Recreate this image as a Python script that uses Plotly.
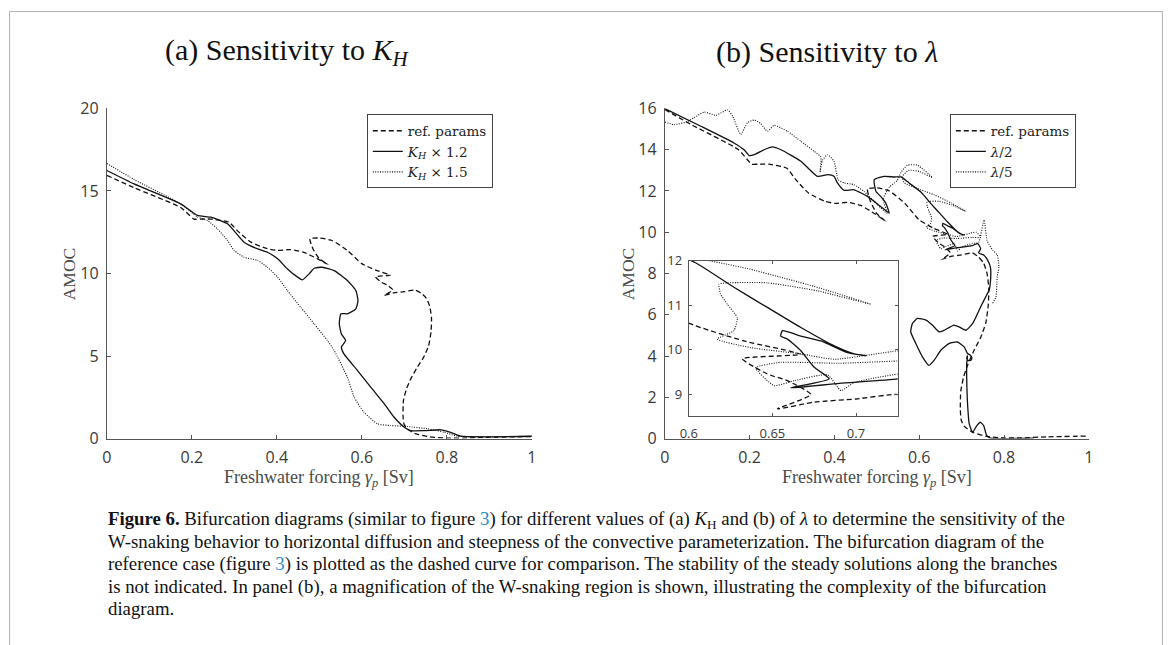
import plotly.graph_objects as go

# ---------------- data ----------------
# reference parameters (same curve in both panels)
ref_x = [0.000, 0.064, 0.174, 0.205, 0.220, 0.245, 0.288, 0.307, 0.339, 0.378,
         0.402, 0.431, 0.462, 0.495, 0.520, 0.500, 0.485, 0.478, 0.500, 0.530,
         0.566, 0.600, 0.633, 0.667, 0.632, 0.647, 0.659, 0.673, 0.653, 0.675,
         0.700, 0.725, 0.740, 0.752, 0.760, 0.764, 0.763, 0.757, 0.745, 0.730,
         0.715, 0.705, 0.698, 0.697, 0.699, 0.706, 0.726, 0.760, 0.800, 0.840,
         0.900, 1.000]
ref_y = [15.95, 15.20, 14.00, 13.30, 13.30, 13.30, 13.10, 12.60, 11.90, 11.50,
         11.40, 11.45, 11.30, 10.90, 10.55, 10.90, 11.50, 12.10, 12.15, 12.00,
         11.40, 10.60, 10.20, 9.90, 9.80, 9.46, 9.31, 9.00, 8.68, 8.83,
         8.90, 9.00, 8.80, 8.50, 8.00, 7.30, 6.50, 5.60, 4.90, 4.30,
         3.60, 3.00, 2.30, 1.40, 0.90, 0.60, 0.30, 0.10, 0.03, 0.03,
         0.08, 0.12]

# K_H x 1.2
kh12_x = [0.000, 0.064, 0.174, 0.213, 0.245, 0.284, 0.323, 0.355, 0.378, 0.402,
          0.425, 0.449, 0.460, 0.476, 0.488, 0.507, 0.535, 0.566, 0.586, 0.591,
          0.586, 0.566, 0.551, 0.547, 0.552, 0.562, 0.552, 0.558, 0.590, 0.621,
          0.653, 0.676, 0.700, 0.715, 0.747, 0.786, 0.809, 0.833, 1.000]
kh12_y = [16.24, 15.43, 14.22, 13.52, 13.41, 13.01, 11.90, 11.49, 11.29, 10.89,
          10.28, 9.78, 9.62, 9.98, 10.32, 10.38, 10.18, 9.58, 8.97, 8.36,
          7.86, 7.56, 7.56, 6.95, 6.34, 5.94, 5.54, 5.13, 4.12, 3.11,
          2.10, 1.29, 0.69, 0.48, 0.48, 0.53, 0.38, 0.14, 0.14]

# K_H x 1.5
kh15_x = [0.000, 0.064, 0.174, 0.213, 0.237, 0.260, 0.284, 0.300, 0.323, 0.355,
          0.378, 0.402, 0.425, 0.456, 0.488, 0.519, 0.535, 0.566, 0.582, 0.605,
          0.637, 0.668, 0.707, 0.755, 0.794, 0.825, 1.000]
kh15_y = [16.67, 15.70, 14.22, 13.43, 13.21, 12.71, 12.00, 11.39, 10.99, 10.79,
          10.38, 9.78, 8.97, 7.96, 6.95, 5.94, 5.33, 3.72, 2.51, 1.60,
          0.89, 0.79, 0.73, 0.59, 0.38, 0.14, 0.14]

# lambda / 2
lam2_x = [0.000, 0.085, 0.163, 0.187, 0.199, 0.211, 0.234, 0.254, 0.274, 0.321,
          0.360, 0.384, 0.399, 0.407, 0.423, 0.446, 0.478, 0.509, 0.529, 0.521,
          0.509, 0.498, 0.494, 0.517, 0.541, 0.557, 0.576, 0.604, 0.627, 0.647,
          0.667, 0.687, 0.699, 0.706, 0.695, 0.679, 0.667, 0.656, 0.655, 0.659,
          0.667, 0.675, 0.684, 0.661, 0.690, 0.725, 0.738, 0.745, 0.740, 0.752,
          0.760, 0.768, 0.768, 0.765, 0.757, 0.745, 0.726, 0.710, 0.694, 0.682,
          0.659, 0.647, 0.631, 0.616, 0.596, 0.584, 0.580, 0.592, 0.608, 0.623,
          0.635, 0.651, 0.671, 0.690, 0.706, 0.714, 0.720, 0.724, 0.722, 0.716,
          0.712, 0.714, 0.712, 0.712, 0.714, 0.718, 0.726, 0.736, 0.744, 0.752,
          0.759, 0.768, 0.870]
lam2_y = [15.99, 15.14, 14.33, 14.00, 13.72, 13.76, 14.00, 14.14, 14.00, 13.44,
          12.71, 12.79, 12.71, 12.39, 12.03, 12.06, 11.74, 11.25, 10.93, 11.42,
          11.74, 11.98, 12.55, 12.71, 12.68, 12.68, 12.39, 11.95, 11.40, 10.95,
          10.50, 10.09, 9.91, 9.87, 9.94, 10.20, 10.31, 10.43, 10.31, 10.24,
          9.98, 9.61, 9.35, 9.15, 9.25, 9.35, 9.45, 9.20, 9.00, 8.90,
          8.70, 8.30, 7.60, 7.20, 6.87, 6.39, 5.58, 5.25, 5.41, 5.50,
          5.25, 5.17, 5.50, 5.74, 5.82, 5.58, 5.17, 4.61, 3.95, 3.55,
          3.79, 4.28, 4.61, 4.68, 4.44, 4.12, 4.05, 3.92, 3.80, 3.78,
          3.90, 4.02, 3.63, 2.98, 1.69, 0.71, 0.31, 0.63, 0.79, 0.63,
          0.15, 0.02, 0.02]

# lambda / 5
lam5_x = [0.000, 0.022, 0.050, 0.069, 0.093, 0.120, 0.148, 0.160, 0.179, 0.195,
          0.211, 0.226, 0.242, 0.258, 0.289, 0.321, 0.352, 0.368, 0.366, 0.372,
          0.384, 0.399, 0.409, 0.423, 0.446, 0.470, 0.502, 0.525, 0.515, 0.530,
          0.548, 0.557, 0.572, 0.596, 0.631, 0.600, 0.575, 0.560, 0.565, 0.604,
          0.635, 0.675, 0.709, 0.677, 0.647, 0.623, 0.618, 0.619, 0.623, 0.629,
          0.627, 0.617, 0.637, 0.667, 0.687, 0.725, 0.735, 0.745, 0.725, 0.690,
          0.655, 0.640, 0.651, 0.663, 0.683, 0.691, 0.699, 0.725, 0.740, 0.753,
          0.760, 0.773, 0.784, 0.788, 0.784, 0.781, 0.773]
lam5_y = [15.34, 15.22, 15.34, 15.55, 15.83, 15.67, 15.93, 15.63, 14.74, 15.31,
          15.44, 15.27, 14.90, 15.18, 14.90, 14.41, 13.93, 13.65, 12.90, 13.50,
          13.76, 13.44, 12.55, 12.39, 12.31, 11.98, 11.33, 10.90, 11.60, 12.20,
          12.50, 12.90, 13.25, 13.25, 12.65, 12.95, 13.00, 12.70, 12.40, 12.06,
          11.82, 11.42, 11.02, 11.32, 11.50, 11.50, 11.47, 11.25, 11.02, 10.72,
          10.43, 10.24, 10.05, 9.91, 9.79, 9.98, 10.00, 9.75, 9.75, 9.70,
          9.72, 9.60, 9.20, 9.31, 9.44, 9.09, 9.27, 9.46, 9.50, 10.60,
          9.60, 9.14, 8.90, 8.33, 7.85, 6.87, 6.55]

for a, b in [(ref_x, ref_y), (kh12_x, kh12_y), (kh15_x, kh15_y),
             (lam2_x, lam2_y), (lam5_x, lam5_y)]:
    assert len(a) == len(b), (len(a), len(b))

xticks_main = [0, 0.2, 0.4, 0.6, 0.8, 1]
xticks_text = ["0", "0.2", "0.4", "0.6", "0.8", "1"]
yticks_a = [0, 5, 10, 15, 20]
yticks_b = [0, 2, 4, 6, 8, 10, 12, 14, 16]
xticks_inset = [0.6, 0.65, 0.7]
xticks_inset_text = ["0.6", "0.65", "0.7"]
yticks_inset = [9, 10, 11, 12]

# ---------------- geometry ----------------
# Figure size and a mapping from wanted picture pixels to paper fractions
# (the page adds a body margin and the photo is slightly rescaled).
W, H = 1168, 650
SX, BX = 0.988, 0.3
SY, BY = 0.966, 2.8
OFF = 8

def px_x(t):
    return ((t - BX) / SX - OFF) / W

def px_y(t):
    return 1 - ((t - BY) / SY - OFF) / H

SERIF = "Liberation Serif, Times New Roman, serif"
LEG_SERIF = "DejaVu Serif, Liberation Serif, serif"
SANS = "Open Sans, Noto Sans, sans-serif"
DASH = "5px,3px"
DOT = "1px,1.4px"
LINE_COL = "#111111"

fig = go.Figure()

def add(x, y, dash, width, name, xa, ya, legend="legend", show=True):
    fig.add_trace(go.Scatter(
        x=x, y=y, mode="lines", name=name,
        line=dict(color=LINE_COL, width=width, dash=dash, shape="spline", smoothing=0.5),
        xaxis=xa, yaxis=ya, showlegend=show, legend=legend, hoverinfo="skip"))

# panel (a)
add(ref_x, ref_y, DASH, 1.3, "ref. params", "x", "y", "legend")
add(kh12_x, kh12_y, "solid", 1.3, "<i>K<sub>H</sub></i> × 1.2", "x", "y", "legend")
add(kh15_x, kh15_y, DOT, 1.1, "<i>K<sub>H</sub></i> × 1.5", "x", "y", "legend")
# panel (b)
add(ref_x, ref_y, DASH, 1.3, "ref. params", "x2", "y2", "legend2")
add(lam2_x, lam2_y, "solid", 1.3, "<i>λ</i>/2", "x2", "y2", "legend2")
add(lam5_x, lam5_y, DOT, 1.1, "<i>λ</i>/5", "x2", "y2", "legend2")
# inset (magnification of panel b)
add(ref_x, ref_y, DASH, 1.3, "ref", "x3", "y3", show=False)
add(lam2_x, lam2_y, "solid", 1.3, "l2", "x3", "y3", show=False)
add(lam5_x, lam5_y, DOT, 1.1, "l5", "x3", "y3", show=False)

AX_COL = "#555555"
TICK_FONT = dict(family=SANS, size=16, color="#3a3a3a")
INSET_FONT = dict(family=SANS, size=13, color="#3a3a3a")

def main_x(domain, anchor):
    return dict(domain=domain, range=[0, 1], anchor=anchor, showgrid=False, zeroline=False,
                showline=True, linecolor=AX_COL, linewidth=1, ticks="inside", ticklen=4,
                tickcolor=AX_COL, tickvals=xticks_main, ticktext=xticks_text,
                tickfont=TICK_FONT, ticklabelstandoff=4)

def main_y(domain, anchor, rng, vals):
    return dict(domain=domain, range=rng, anchor=anchor, showgrid=False, zeroline=False,
                showline=True, linecolor=AX_COL, linewidth=1, ticks="inside", ticklen=4,
                tickcolor=AX_COL, tickvals=vals, ticktext=[str(v) for v in vals],
                tickfont=TICK_FONT, ticklabelstandoff=4)

ydom = [px_y(438), px_y(108)]
legend_style = dict(xanchor="left", yanchor="top", bgcolor="white",
                    bordercolor="#444444", borderwidth=1,
                    font=dict(family=LEG_SERIF, size=13.5, color="#222222"),
                    itemwidth=30, tracegroupgap=0)
fig.update_layout(
    width=W, height=H, margin=dict(l=0, r=0, t=0, b=0),
    paper_bgcolor="white", plot_bgcolor="rgba(0,0,0,0)",
    xaxis=main_x([px_x(106), px_x(531)], "y"),
    yaxis=main_y(ydom, "x", [0, 20], yticks_a),
    xaxis2=main_x([px_x(664), px_x(1088)], "y2"),
    yaxis2=main_y(ydom, "x2", [0, 16], yticks_b),
    xaxis3=dict(domain=[px_x(688), px_x(897)], range=[0.6, 0.725], anchor="y3",
                showgrid=False, zeroline=False, showline=True, mirror="ticks",
                linecolor=AX_COL, linewidth=1, ticks="inside", ticklen=3, tickcolor=AX_COL,
                tickvals=xticks_inset, ticktext=xticks_inset_text,
                tickfont=INSET_FONT, ticklabelstandoff=6),
    yaxis3=dict(domain=[px_y(415), px_y(260)], range=[8.53, 12.0], anchor="x3",
                showgrid=False, zeroline=False, showline=True, mirror="ticks",
                linecolor=AX_COL, linewidth=1, ticks="inside", ticklen=3, tickcolor=AX_COL,
                tickvals=yticks_inset, ticktext=[str(v) for v in yticks_inset],
                tickfont=INSET_FONT, ticklabelstandoff=3),
    legend=dict(x=px_x(366), y=px_y(114), **legend_style),
    legend2=dict(x=px_x(949), y=px_y(114), **legend_style),
    showlegend=True,
)

ann = []
# panel titles
ann.append(dict(x=px_x(287), y=px_y(52), text="(a) Sensitivity to <i>K<sub>H</sub></i>",
                font=dict(family=SERIF, size=30, color="#111111")))
ann.append(dict(x=px_x(826), y=px_y(52), text="(b) Sensitivity to <i>λ</i>",
                font=dict(family=SERIF, size=30, color="#111111")))
# axis titles
for cx in (318, 876):
    ann.append(dict(x=px_x(cx), y=px_y(478), text="Freshwater forcing <i>γ<sub>p</sub></i> [Sv]",
                    font=dict(family=SERIF, size=18, color="#4a4a4a")))
for cx in (68, 627):
    ann.append(dict(x=px_x(cx), y=px_y(273), text="AMOC", textangle=-90,
                    font=dict(family=SERIF, size=17.5, color="#4a4a4a")))
# caption
blue = "color:#2b8cc4"
cap_lines = [
    "<b>Figure 6.</b> Bifurcation diagrams (similar to figure <span style='%s'>3</span>) for different values of (a) <i>K</i><sub>H</sub> and (b) of <i>λ</i> to determine the sensitivity of the" % blue,
    "W-snaking behavior to horizontal diffusion and steepness of the convective parameterization. The bifurcation diagram of the",
    "reference case (figure <span style='%s'>3</span>) is plotted as the dashed curve for comparison. The stability of the steady solutions along the branches" % blue,
    "is not indicated. In panel (b), a magnification of the W-snaking region is shown, illustrating the complexity of the bifurcation",
    "diagram.",
]
cap_y = [519, 541, 563, 586, 608]
for t, yy in zip(cap_lines, cap_y):
    ann.append(dict(x=px_x(105), y=px_y(yy), text=t, xanchor="left", yanchor="middle",
                    align="left", font=dict(family=SERIF, size=18.8, color="#111111")))

for a in ann:
    a.setdefault("xanchor", "center")
    a.setdefault("yanchor", "middle")
    a.update(xref="paper", yref="paper", showarrow=False)
fig.update_layout(annotations=ann)

# outer frame of the page (left/top/right borders)
fig.add_shape(type="rect", xref="paper", yref="paper",
              x0=max(px_x(8), 0.6 / W), x1=min(px_x(1163), (W - 0.6) / W),
              y0=-0.05, y1=min(px_y(8), 1 - 0.6 / H),
              line=dict(color="#b0b0b0", width=1), fillcolor="rgba(0,0,0,0)", layer="below")

fig.write_html("out.html")
